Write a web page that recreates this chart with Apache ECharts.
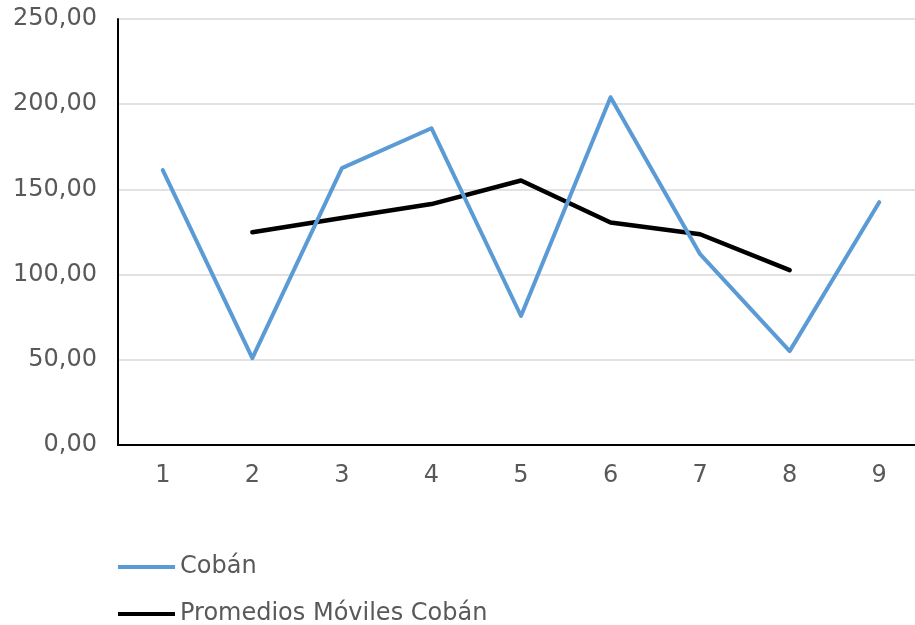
<!DOCTYPE html>
<html>
<head>
<meta charset="utf-8">
<script src="https://cdn.jsdelivr.net/npm/echarts@6/dist/echarts.min.js"></script>
<style>
  html, body { margin: 0; padding: 0; background: #fff; overflow: hidden; }
  #chart { width: 924px; height: 625px; }
</style>
</head>
<body>
<div id="chart"></div>
<script>
// Periods on the horizontal axis
const periods = ['1', '2', '3', '4', '5', '6', '7', '8', '9'];
// Observed values for Cobán
const coban = [161.3, 51.0, 162.5, 185.9, 75.7, 204.1, 112.0, 55.1, 142.5];
// Three-period moving averages (no value at the ends)
const movingAvg = [null, 124.9, 133.2, 141.4, 155.2, 130.6, 123.7, 102.6, null];

const seriesNames = ['Cobán', 'Promedios Móviles Cobán'];
const textColor = '#595959';
const fontFamily = 'DejaVu Sans, Verdana, sans-serif';
const fontSize = 24;

const chart = echarts.init(document.getElementById('chart'));

const legendCommon = {
  left: 118,
  padding: 0,
  orient: 'horizontal',
  icon: 'rect',
  itemWidth: 57,
  itemHeight: 4,
  selectedMode: false,
  textStyle: { color: textColor, fontSize: fontSize, fontFamily: fontFamily }
};

chart.setOption({
  backgroundColor: '#ffffff',
  animation: false,
  grid: { left: 118, right: 0, top: 19, bottom: 180, containLabel: false },
  legend: [
    Object.assign({}, legendCommon, { top: 555, data: [seriesNames[0]] }),
    Object.assign({}, legendCommon, { top: 602, data: [seriesNames[1]] })
  ],
  xAxis: {
    type: 'category',
    data: periods,
    boundaryGap: true,
    axisLine: { show: true, lineStyle: { color: '#000000', width: 2 } },
    axisTick: { show: false },
    axisLabel: { color: textColor, fontSize: fontSize, fontFamily: fontFamily, margin: 19 },
    splitLine: { show: false }
  },
  yAxis: {
    type: 'value',
    min: 0,
    max: 250,
    interval: 50,
    axisLine: { show: true, lineStyle: { color: '#000000', width: 2 } },
    axisTick: { show: false },
    axisLabel: {
      color: textColor,
      fontSize: fontSize,
      fontFamily: fontFamily,
      margin: 21,
      formatter: function (v) { return v.toFixed(2).replace('.', ','); }
    },
    splitLine: { show: true, lineStyle: { color: '#d9d9d9', width: 1.5 } }
  },
  series: [
    {
      name: seriesNames[0],
      type: 'line',
      data: coban,
      symbol: 'none',
      z: 3,
      lineStyle: { color: '#5b9bd5', width: 4, join: 'round', cap: 'round' },
      itemStyle: { color: '#5b9bd5' }
    },
    {
      name: seriesNames[1],
      type: 'line',
      data: movingAvg,
      symbol: 'none',
      z: 2,
      lineStyle: { color: '#000000', width: 4.5, join: 'round', cap: 'round' },
      itemStyle: { color: '#000000' }
    }
  ]
});
</script>
</body>
</html>
